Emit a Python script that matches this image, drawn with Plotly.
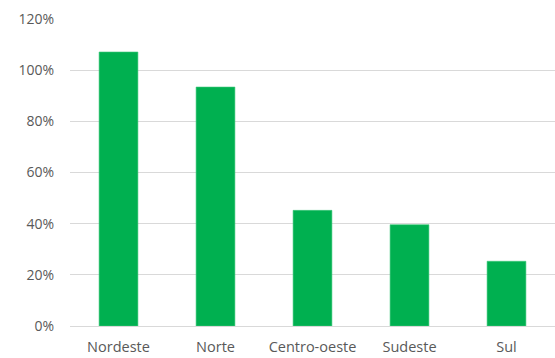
import plotly.graph_objects as go

categories = ["Nordeste", "Norte", "Centro-oeste", "Sudeste", "Sul"]
values = [107.1, 93.4, 45.2, 39.6, 25.3]
y_ticks = [0, 20, 40, 60, 80, 100, 120]

fig = go.Figure(
    go.Bar(
        x=categories,
        y=values,
        marker=dict(color="#00B050", line=dict(color="#3CC878", width=0.6)),
        hoverinfo="skip",
    )
)

fig.update_layout(
    width=555,
    height=358,
    margin=dict(l=70, r=0, t=19, b=32),
    paper_bgcolor="white",
    plot_bgcolor="white",
    bargap=0.6,
    showlegend=False,
    font=dict(family="Open Sans", size=14, color="#595959"),
)
fig.update_xaxes(
    showgrid=False,
    showline=False,
    ticks="",
    tickfont=dict(size=14.5),
    ticklabelstandoff=10,
)
fig.update_yaxes(
    range=[0, 120],
    tickvals=y_ticks,
    ticktext=[f"{v}%" for v in y_ticks],
    showgrid=True,
    gridcolor="#D9D9D9",
    gridwidth=1,
    zeroline=True,
    zerolinecolor="#D9D9D9",
    zerolinewidth=1,
    showline=False,
    ticks="",
    ticklabelstandoff=15,
    tickfont=dict(size=14),
)

fig.write_html("out.html")
